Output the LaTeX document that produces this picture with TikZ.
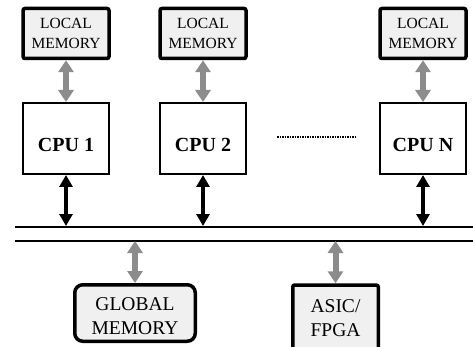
\documentclass[tikz,border=0pt]{standalone}
\usepackage{fontspec}
\setmainfont{Liberation Serif}
\usetikzlibrary{arrows.meta}
\definecolor{boxgray}{HTML}{F0F0F0}
\definecolor{arrgray}{HTML}{8C8C8C}

\begin{document}
\begin{tikzpicture}[x=1pt, y=-1pt,
    locmem/.style={rectangle, draw, line width=3.5pt, rounded corners=2pt,
                   fill=boxgray, minimum width=86pt, minimum height=50pt,
                   align=center, inner sep=0pt,
                   font=\fontsize{15.5}{19.3}\selectfont},
    cpu/.style={rectangle, draw, line width=2pt, minimum width=86pt,
                minimum height=71pt, inner sep=0pt, text height=27pt,
                text depth=0pt, font=\fontsize{20}{24}\selectfont\bfseries},
    shared/.style={rectangle, draw, line width=3.5pt, fill=boxgray,
                   align=center, inner sep=0pt,
                   font=\fontsize{19.5}{24}\selectfont},
    garr/.style={{Triangle[width=15pt,length=12pt]}-{Triangle[width=15pt,length=12pt]},
                 line width=6pt, draw=arrgray},
    barr/.style={{Triangle[width=13pt,length=12pt]}-{Triangle[width=13pt,length=12pt]},
                 line width=4.5pt, shorten >=1pt},
    bus/.style={line width=1.5pt},
  ]

  \useasboundingbox (0,0) rectangle (473,347);

  % Local memories
  \node[locmem] (mem1) at (66, 33.5)  {LOCAL\\MEMORY};
  \node[locmem] (mem2) at (203, 33.5) {LOCAL\\MEMORY};
  \node[locmem] (memN) at (423, 33.5) {LOCAL\\MEMORY};

  % Processors
  \node[cpu] (cpu1) at (66, 138.5)  {CPU 1};
  \node[cpu] (cpu2) at (203, 138.5) {CPU 2};
  \node[cpu] (cpuN) at (423, 138.5) {CPU N};

  % Dots between CPU 2 and CPU N
  \coordinate (dotsL) at (277, 137);
  \coordinate (dotsR) at (357, 137);
  \draw[densely dotted, line width=1.5pt] (dotsL) -- (dotsR);

  % Bus
  \coordinate (busTL) at (15, 227);
  \coordinate (busTR) at (473, 227);
  \coordinate (busBL) at (15, 241);
  \coordinate (busBR) at (473, 241);
  \draw[bus] (busTL) -- (busTR);
  \draw[bus] (busBL) -- (busBR);

  % Shared units
  \node[shared, rounded corners=8pt, minimum width=120.5pt,
        minimum height=56.5pt, text height=43pt, text depth=0pt]
    (gmem) at (135, 313) {GLOBAL\\MEMORY};
  \node[shared, rounded corners=2pt, minimum width=85.5pt,
        minimum height=67pt] (asic) at (335.5, 318.5) {ASIC/\\FPGA};

  % Local memory links
  \draw[garr] (mem1) -- (cpu1);
  \draw[garr] (mem2) -- (cpu2);
  \draw[garr] (memN) -- (cpuN);

  % CPU to bus
  \draw[barr] (cpu1.south) -- (cpu1.south |- busTL);
  \draw[barr] (cpu2.south) -- (cpu2.south |- busTL);
  \draw[barr] (cpuN.south) -- (cpuN.south |- busTL);

  % Bus to shared units
  \draw[garr] (gmem.north |- busBL) -- (gmem.north);
  \draw[garr] (asic.north |- busBL) -- (asic.north);

\end{tikzpicture}
\end{document}
